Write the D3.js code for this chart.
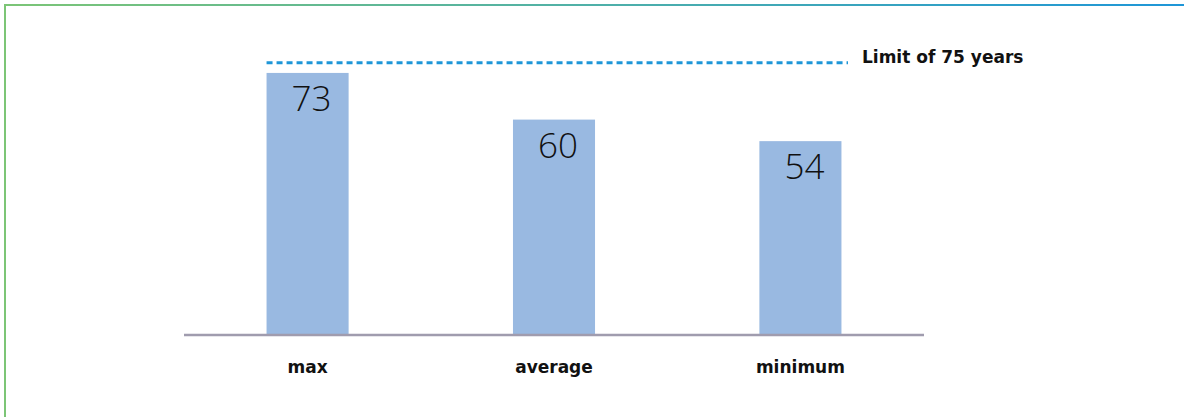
<!DOCTYPE html>
<html>
<head>
<meta charset="utf-8">
<script src="https://cdn.jsdelivr.net/npm/d3@7"></script>
<style>
  html, body { margin: 0; padding: 0; background: #fff; }
  svg { display: block; }
</style>
</head>
<body>
<div id="chart"></div>
<script>
// chart data
const categories = [ 'max', 'average', 'minimum' ];
const ages = [ 73, 60, 54 ];
const limitValue = 75;
const limitLabel = 'Limit of 75 years';

const figure_width = 1184;
const figure_height = 417;

const boldStyle = 'font-size:17px; font-weight:700; font-family:DejaVu Sans, sans-serif; fill:#111;';
const valueStyle = 'font-size:35px; font-weight:300; font-family:Open Sans, sans-serif; fill:#111;';

const svg = d3.select( 'div#chart' )
  .append( 'svg' )
    .attr( 'width', figure_width )
    .attr( 'height', figure_height );

// green-to-blue frame (top and left edge only)
const grad = svg.append( 'defs' ).append( 'linearGradient' )
    .attr( 'id', 'frameGrad' )
    .attr( 'gradientUnits', 'userSpaceOnUse' )
    .attr( 'x1', 0 ).attr( 'x2', figure_width )
    .attr( 'y1', 0 ).attr( 'y2', 0 );
grad.append( 'stop' ).attr( 'offset', '0%' ).attr( 'stop-color', '#7cc576' );
grad.append( 'stop' ).attr( 'offset', '50%' ).attr( 'stop-color', '#4fb0a8' );
grad.append( 'stop' ).attr( 'offset', '100%' ).attr( 'stop-color', '#1e96d8' );

svg.append( 'line' )
    .attr( 'x1', 4 ).attr( 'x2', figure_width )
    .attr( 'y1', 5 ).attr( 'y2', 5 )
    .attr( 'stroke', 'url(#frameGrad)' )
    .attr( 'stroke-width', 2 );
svg.append( 'line' )
    .attr( 'x1', 5 ).attr( 'x2', 5 )
    .attr( 'y1', 4 ).attr( 'y2', figure_height )
    .attr( 'stroke', '#7cc576' )
    .attr( 'stroke-width', 2 );

// plot area
const plot = { left: 184, right: 924, bottom: 335 };

const x = d3.scaleBand()
    .domain( categories )
    .range( [ plot.left, plot.right ] )
    .paddingInner( 0.667 )
    .paddingOuter( 0.335 );

const y = d3.scaleLinear()
    .domain( [ 0, 75 ] )
    .range( [ plot.bottom, plot.bottom - 75 * 3.59 ] );

const data = categories.map( function( c, i ) { return { cat: c, value: ages[ i ] }; } );

// bars
svg.append( 'g' )
  .selectAll( 'rect' )
  .data( data )
  .enter()
  .append( 'rect' )
    .attr( 'x', function( d ) { return x( d.cat ); } )
    .attr( 'y', function( d ) { return y( d.value ); } )
    .attr( 'width', x.bandwidth() )
    .attr( 'height', function( d ) { return y( 0 ) - y( d.value ); } )
    .attr( 'fill', '#99b9e1' );

// value labels inside bars
svg.append( 'g' )
  .selectAll( 'text' )
  .data( data )
  .enter()
  .append( 'text' )
    .attr( 'x', function( d ) { return x( d.cat ) + x.bandwidth() / 2 + 4; } )
    .attr( 'y', function( d ) { return y( d.value ) + 38; } )
    .attr( 'text-anchor', 'middle' )
    .attr( 'style', valueStyle )
    .text( function( d ) { return d.value; } );

// baseline
svg.append( 'line' )
    .attr( 'x1', plot.left ).attr( 'x2', plot.right )
    .attr( 'y1', y( 0 ) ).attr( 'y2', y( 0 ) )
    .attr( 'stroke', '#a09cae' )
    .attr( 'stroke-width', 2.5 );

// category labels
svg.append( 'g' )
  .selectAll( 'text' )
  .data( categories )
  .enter()
  .append( 'text' )
    .attr( 'x', function( d ) { return x( d ) + x.bandwidth() / 2; } )
    .attr( 'y', 373 )
    .attr( 'text-anchor', 'middle' )
    .attr( 'style', boldStyle )
    .text( function( d ) { return d; } );

// dashed limit line
svg.append( 'line' )
    .attr( 'x1', x( categories[ 0 ] ) )
    .attr( 'x2', 848 )
    .attr( 'y1', y( limitValue ) - 3 )
    .attr( 'y2', y( limitValue ) - 3 )
    .attr( 'stroke', '#1e96d8' )
    .attr( 'stroke-width', 3 )
    .attr( 'stroke-dasharray', '6,4' );

svg.append( 'text' )
    .attr( 'x', 862 )
    .attr( 'y', y( limitValue ) - 3 )
    .attr( 'style', boldStyle )
    .text( limitLabel );
</script>
</body>
</html>
